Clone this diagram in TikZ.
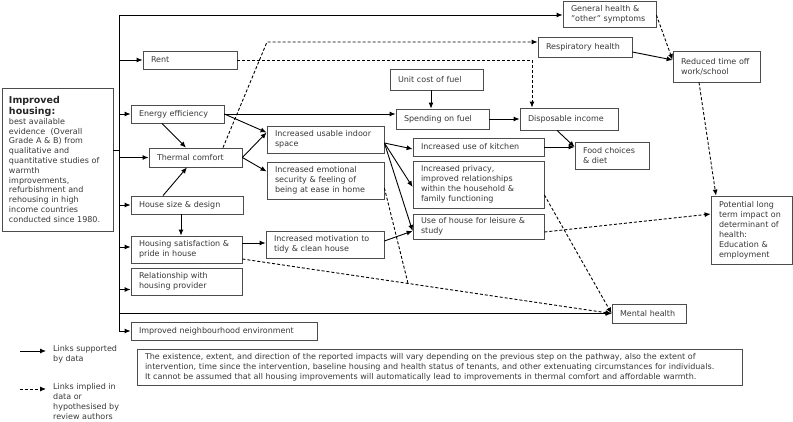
\documentclass[tikz,border=0pt]{standalone}
\usepackage{fontspec}
\setmainfont{DejaVu Sans}
\usetikzlibrary{arrows.meta,calc}
\newcommand\fs{\fontsize{8}{10}\selectfont}
\begin{document}
\begin{tikzpicture}[x=1pt,y=-1pt,
  box/.style={draw=black!70, line width=0.8pt, fill=white, inner xsep=8pt, inner ysep=1pt, align=left, font=\fs, text=black!78, anchor=center},
  con/.style={line width=0.9pt, black},
  arr/.style={con, -{Latex[length=6pt,width=5pt]}},
  dsh/.style={dash pattern=on 3pt off 2pt},
  lbl/.style={font=\fs, text=black!78, align=left, anchor=north west, inner sep=0pt}]
\useasboundingbox (0,0) rectangle (793,422);

% boxes
\node[box, minimum width=111pt, minimum height=143pt, text width=97pt, inner xsep=7pt] (house) at (57.5,159.5)
 {{\fontsize{9.5}{11}\selectfont\bfseries\color{black!85}Improved\\housing:\par}\fontsize{8}{9.8}\selectfont best available\\evidence\ \ (Overall\\Grade A \& B) from\\qualitative and\\quantitative studies of\\warmth\\improvements,\\refurbishment and\\rehousing in high\\income countries\\conducted since 1980.};
\node[box, minimum width=93pt, minimum height=26pt, text width=77pt] (gen) at (609.5,14) {General health \&\\"other" symptoms};
\node[box, minimum width=94pt, minimum height=18pt, text width=78pt] (rent) at (190,60) {Rent};
\node[box, minimum width=94pt, minimum height=20pt, text width=78pt] (resp) at (585,47) {Respiratory health};
\node[box, minimum width=87pt, minimum height=31pt, text width=71pt] (red) at (716.5,66.5) {Reduced time off\\work/school};
\node[box, minimum width=93pt, minimum height=21pt, text width=77pt] (unit) at (436.5,79.5) {Unit cost of fuel};
\node[box, minimum width=93pt, minimum height=18pt, text width=77pt] (ee) at (177.5,114) {Energy efficiency};
\node[box, minimum width=93pt, minimum height=20pt, text width=77pt] (spend) at (442.5,119) {Spending on fuel};
\node[box, minimum width=98pt, minimum height=22pt, text width=82pt] (disp) at (569,119) {Disposable income};
\node[box, minimum width=93pt, minimum height=19pt, text width=77pt] (tc) at (195.5,157.5) {Thermal comfort};
\node[box, minimum width=117pt, minimum height=27pt, text width=101pt] (ius) at (325.5,139.5) {Increased usable indoor\\space};
\node[box, minimum width=131pt, minimum height=18pt, text width=115pt] (kit) at (478.5,147) {Increased use of kitchen};
\node[box, minimum width=74pt, minimum height=27pt, text width=58pt] (food) at (612,155.5) {Food choices\\\& diet};
\node[box, minimum width=117pt, minimum height=37pt, text width=101pt] (emo) at (325.5,180.5) {Increased emotional\\security \& feeling of\\being at ease in home};
\node[box, minimum width=131pt, minimum height=47pt, text width=115pt] (priv) at (478.5,184.5) {Increased privacy,\\improved relationships\\within the household \&\\family functioning};
\node[box, minimum width=112pt, minimum height=18pt, text width=96pt] (hs) at (187,205) {House size \& design};
\node[box, minimum width=81pt, minimum height=68pt, text width=65pt] (pot) at (751.5,230) {Potential long\\term impact on\\determinant of\\health:\\Education \&\\employment};
\node[box, minimum width=131pt, minimum height=25pt, text width=115pt] (use) at (478.5,226.5) {Use of house for leisure \&\\study};
\node[box, minimum width=118pt, minimum height=27pt, text width=102pt] (mot) at (325,244.5) {Increased motivation to\\tidy \& clean house};
\node[box, minimum width=111pt, minimum height=27pt, text width=95pt] (sat) at (186.5,249.5) {Housing satisfaction \&\\pride in house};
\node[box, minimum width=111pt, minimum height=27pt, text width=95pt] (rel) at (186.5,281.5) {Relationship with\\housing provider};
\node[box, minimum width=74pt, minimum height=19pt, text width=58pt] (mh) at (649,313.5) {Mental health};
\node[box, minimum width=186pt, minimum height=18pt, text width=170pt] (nb) at (224,331) {Improved neighbourhood environment};
\node[box, minimum width=605pt, minimum height=36pt, text width=589pt] (note) at (439.5,367) {The existence, extent, and direction of the reported impacts will vary depending on the previous step on the pathway, also the extent of\\intervention, time since the intervention, baseline housing and health status of tenants, and other extenuating circumstances for individuals.\\It cannot be assumed that all housing improvements will automatically lead to improvements in thermal comfort and affordable warmth.};

% legend
\node[lbl] (leg1) at (53,345) {Links supported\\by data};
\node[lbl] (leg2) at (53,383) {Links implied in\\data or\\hypothesised by\\review authors};
\coordinate (l1a) at (20,351); \coordinate (l1b) at (46,351);
\coordinate (l2a) at (20,389); \coordinate (l2b) at (46,389);
\draw[arr] (l1a) -- (l1b);
\draw[arr,dsh] (l2a) -- (l2b);

% trunk
\coordinate (t0) at (119,15);
\coordinate (tb) at (119,331);
\draw[con] (t0) -- (tb);
\draw[con] ([yshift=9.5pt]house.east) -- ++(6,0);
\draw[arr] (t0) -- (gen.west |- t0);
\draw[arr] (t0 |- rent) -- (rent.west);
\draw[arr] (t0 |- ee) -- (ee.west);
\draw[arr] (t0 |- tc) -- (tc.west);
\draw[arr] (t0 |- hs) -- (hs.west);
\draw[arr] (t0 |- 0,247) -- (sat.west |- 0,247);
\coordinate (relin) at ([yshift=-8pt]rel.west);
\draw[arr] (t0 |- relin) -- (relin);
\draw[arr] (tb) -- (nb.west |- tb);
\draw[arr] (t0 |- mh) -- (mh.west);

% solid links
\draw[arr] (162,0 |- ee.south) -- (186,0 |- tc.north);
\draw[arr] (163,0 |- hs.north) -- (187,0 |- tc.south);
\draw[arr] (181,0 |- hs.south) -- (181,0 |- sat.north);
\draw[arr] (ee.east) -- (spend.west |- ee.east);
\draw[arr] (431,0 |- unit.south) -- (431,0 |- spend.north);
\draw[arr] (spend.east) -- (disp.west |- spend.east);
\coordinate (fin) at (food.west |- kit.east);
\draw[arr] (557,0 |- disp.south) -- (fin);
\draw[arr] (kit.east) -- (fin);
\coordinate (rin) at ([yshift=6.5pt]red.west);
\draw[arr] ([yshift=-5pt]resp.east) -- (rin);
\coordinate (iin) at ([yshift=7pt]ius.west);
\draw[arr] (ee.east) -- (iin);
\draw[arr] (tc.east) -- (iin);
\draw[arr] (tc.east) -- ([yshift=9pt]emo.west);
\coordinate (iout) at ([yshift=-3.5pt]ius.east);
\coordinate (uin) at ([yshift=-4.5pt]use.west);
\draw[arr] (iout) -- ([yshift=-2pt]kit.west);
\draw[arr] (iout) -- ([yshift=-2.5pt]priv.west);
\draw[arr] (iout) -- (uin);
\draw[arr] ([yshift=6.5pt]sat.east) -- (mot.west |- 0,243);
\draw[arr] ([yshift=3.5pt]mot.east) -- (uin);

% dashed links
\coordinate (rbend) at (267,42);
\draw[arr,dsh] (223,0 |- tc.north) -- (rbend) -- (resp.west |- rbend);
\coordinate (dbend) at (532,0 |- rent.east);
\draw[arr,dsh] (rent.east) -- (dbend) -- (532,0 |- disp.north);
\draw[arr,dsh] ([yshift=-1pt]gen.east) -- (rin);
\draw[arr,dsh] (699,0 |- red.south) -- (716,0 |- pot.north);
\draw[arr,dsh] ([yshift=-5.5pt]use.east) -- ([yshift=16pt]pot.west);
\draw[arr,dsh] ([yshift=-10.5pt]priv.east) -- (mh.west);
\draw[arr,dsh] ([yshift=-9.5pt]sat.east) -- (mh.west);
\coordinate (join) at (408,283.4);
\draw[con,dsh] ([yshift=-7.5pt]emo.east) -- (join);
\end{tikzpicture}
\end{document}
